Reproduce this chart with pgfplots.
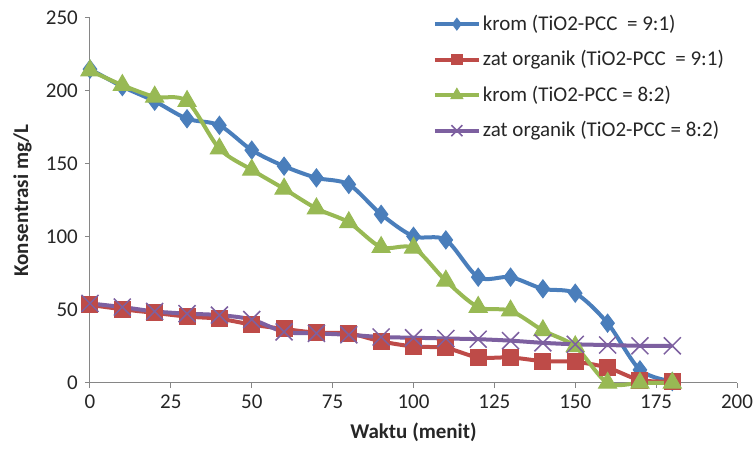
\documentclass[border=0pt]{standalone}
\usepackage{fontspec}
\setmainfont{Carlito}
\usepackage{pgfplots}
\pgfplotsset{compat=1.18}
\definecolor{cblue}{HTML}{4A7EBB}
\definecolor{cred}{HTML}{BE4B48}
\definecolor{cgreen}{HTML}{98B954}
\definecolor{cpurple}{HTML}{7D60A0}
\definecolor{axgray}{HTML}{868686}
\definecolor{txt}{HTML}{262626}
\begin{document}
\fontsize{21}{25}\selectfont
\begin{tikzpicture}
\useasboundingbox (-90pt,-69pt) rectangle (665pt,383pt);
\begin{axis}[
  scale only axis, width=647pt, height=365pt,
  xmin=0, xmax=200, ymin=0, ymax=250,
  axis x line=bottom, axis y line=left,
  axis line style={axgray, line width=1pt, -},
  xtick={0,25,...,200}, ytick={0,50,...,250},
  tick align=outside, major tick length=5pt,
  tick style={axgray, line width=1pt},
  ticklabel style={font=\fontsize{21}{25}\selectfont, text=txt},
  /pgf/number format/assume math mode=true,
  xlabel={Waktu (menit)}, ylabel={Konsentrasi mg/L},
  label style={font=\fontsize{21}{25}\selectfont\bfseries, text=txt},
  clip=false,
  legend cell align=left,
  legend style={draw=none, fill=none, at={(0.525,1.02)}, anchor=north west,
    font=\fontsize{21}{25}\selectfont, text=txt, row sep=13pt},
  legend image code/.code={\draw[mark repeat=2, mark phase=2, /tikz/every mark/.append style={scale=0.65}] plot coordinates {(0pt,0pt) (22pt,0pt) (44pt,0pt)};},
  every axis plot/.append style={line width=4pt},
]
\addplot[cblue, smooth, mark=diamond*, mark size=9pt, mark options={line width=1pt}] coordinates {
(0,215)(10,203)(20,193)(30,181)(40,176.5)(50,159.5)(60,148.5)(70,140.5)(80,136)(90,115.5)(100,100.5)(110,98)(120,72.5)(130,72.5)(140,64.5)(150,61.5)(160,41)(170,9)(180,1)};
\addlegendentry{krom (TiO2-PCC\ \ = 9:1)}
\addplot[cred, smooth, mark=square*, mark size=8pt, mark options={line width=1pt}] coordinates {
(0,53.5)(10,50.5)(20,48)(30,45.5)(40,44)(50,40)(60,37)(70,34.5)(80,34)(90,28.5)(100,25)(110,24)(120,17.5)(130,17.5)(140,15)(150,14.5)(160,10.5)(170,2)(180,1)};
\addlegendentry{zat organik (TiO2-PCC\ \ = 9:1)}
\addplot[cgreen, smooth, mark=triangle*, mark size=10.5pt, mark options={line width=1pt}] coordinates {
(0,214)(10,204)(20,196)(30,193)(40,160.5)(50,146)(60,133)(70,119.5)(80,110)(90,93)(100,92.5)(110,70)(120,52)(130,49.5)(140,36)(150,25)(160,0)(170,0)(180,0)};
\addlegendentry{krom (TiO2-PCC = 8:2)}
\addplot[cpurple, smooth, mark=x, mark size=12pt, mark options={line width=1.5pt}] coordinates {
(0,54.5)(10,52)(20,49)(30,47.5)(40,46.5)(50,43.5)(60,35)(70,34)(80,33)(90,31.5)(100,31)(110,30.5)(120,30)(130,29)(140,27.5)(150,26.5)(160,26)(170,25.5)(180,25.5)};
\addlegendentry{zat organik (TiO2-PCC = 8:2)}
\end{axis}
\end{tikzpicture}
\end{document}
